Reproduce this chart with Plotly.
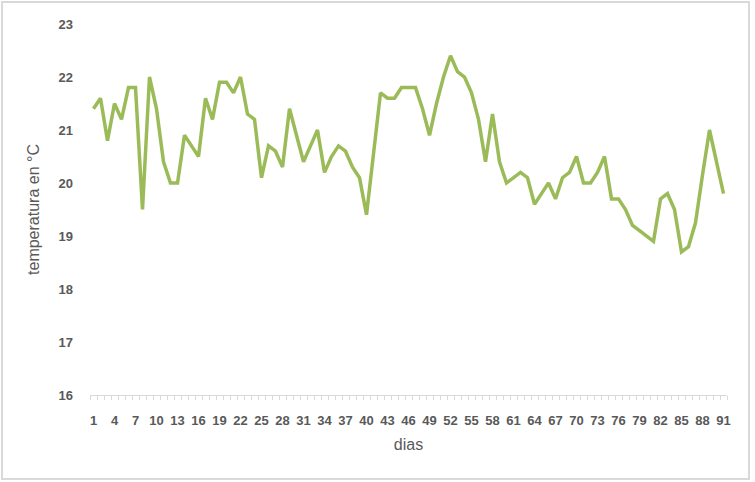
import plotly.graph_objects as go

days = list(range(1, 92))
temps = [21.4, 21.6, 20.8, 21.5, 21.2, 21.8, 21.8, 19.5, 22.0, 21.4,
         20.4, 20.0, 20.0, 20.9, 20.7, 20.5, 21.6, 21.2, 21.9, 21.9,
         21.7, 22.0, 21.3, 21.2, 20.1, 20.7, 20.6, 20.3, 21.4, 20.9,
         20.4, 20.7, 21.0, 20.2, 20.5, 20.7, 20.6, 20.3, 20.1, 19.4,
         20.5, 21.7, 21.6, 21.6, 21.8, 21.8, 21.8, 21.4, 20.9, 21.5,
         22.0, 22.4, 22.1, 22.0, 21.7, 21.2, 20.4, 21.3, 20.4, 20.0,
         20.1, 20.2, 20.1, 19.6, 19.8, 20.0, 19.7, 20.1, 20.2, 20.5,
         20.0, 20.0, 20.2, 20.5, 19.7, 19.7, 19.5, 19.2, 19.1, 19.0,
         18.9, 19.7, 19.8, 19.5, 18.7, 18.8, 19.25, 20.15, 21.0, 20.4,
         19.8]
x_tick_days = days[::3]
x_tick_labels = [str(d) for d in x_tick_days]
y_ticks = [16, 17, 18, 19, 20, 21, 22, 23]

W, H = 755, 482
L, R, T, B = 90, 28, 24, 87
pw, ph = W - L - R, H - T - B

def px_x(p):
    return (p - L) / pw

def px_y(p):
    return (H - B - p) / ph

font_fam = "Liberation Sans, Arial, sans-serif"
txt_col = "#595959"

fig = go.Figure()
fig.add_trace(go.Scatter(
    x=days, y=temps, mode="lines",
    line=dict(color="#9BBB59", width=3.5),
    hoverinfo="x+y", showlegend=False,
))

fig.update_layout(
    width=W, height=H,
    margin=dict(l=L, r=R, t=T, b=B),
    paper_bgcolor="white", plot_bgcolor="white",
    font=dict(family=font_fam, color=txt_col, size=12),
    xaxis=dict(
        range=[0.5, 91.5], tickmode="array",
        tickvals=x_tick_days, ticktext=x_tick_labels,
        ticks="", showgrid=False, zeroline=False,
        showline=True, linecolor="#d9d9d9", linewidth=1,
        ticklabelstandoff=13,
        tickfont=dict(size=13, color=txt_col, weight="bold"),
        minor=dict(tickvals=[d - 0.5 for d in days] + [91.5], ticks="outside",
                   ticklen=4, tickcolor="#d9d9d9", tickwidth=1, showgrid=False),
        title=dict(text="dias", font=dict(size=16, color=txt_col), standoff=12),
    ),
    yaxis=dict(
        range=[16, 23], tickmode="array", tickvals=y_ticks,
        showgrid=False, zeroline=False, showline=False, ticks="",
        ticklabelstandoff=16,
        tickfont=dict(size=13, color=txt_col, weight="bold"),
        title=dict(text="temperatura en °C", font=dict(size=16, color=txt_col), standoff=14),
    ),
    shapes=[dict(type="rect", xref="paper", yref="paper",
                 x0=px_x(2), x1=px_x(749), y0=px_y(479), y1=px_y(2),
                 line=dict(color="#d9d9d9", width=2), layer="below")],
)

fig.write_html("out.html", config={"displayModeBar": False},
               post_script="document.body.style.margin='0';")
